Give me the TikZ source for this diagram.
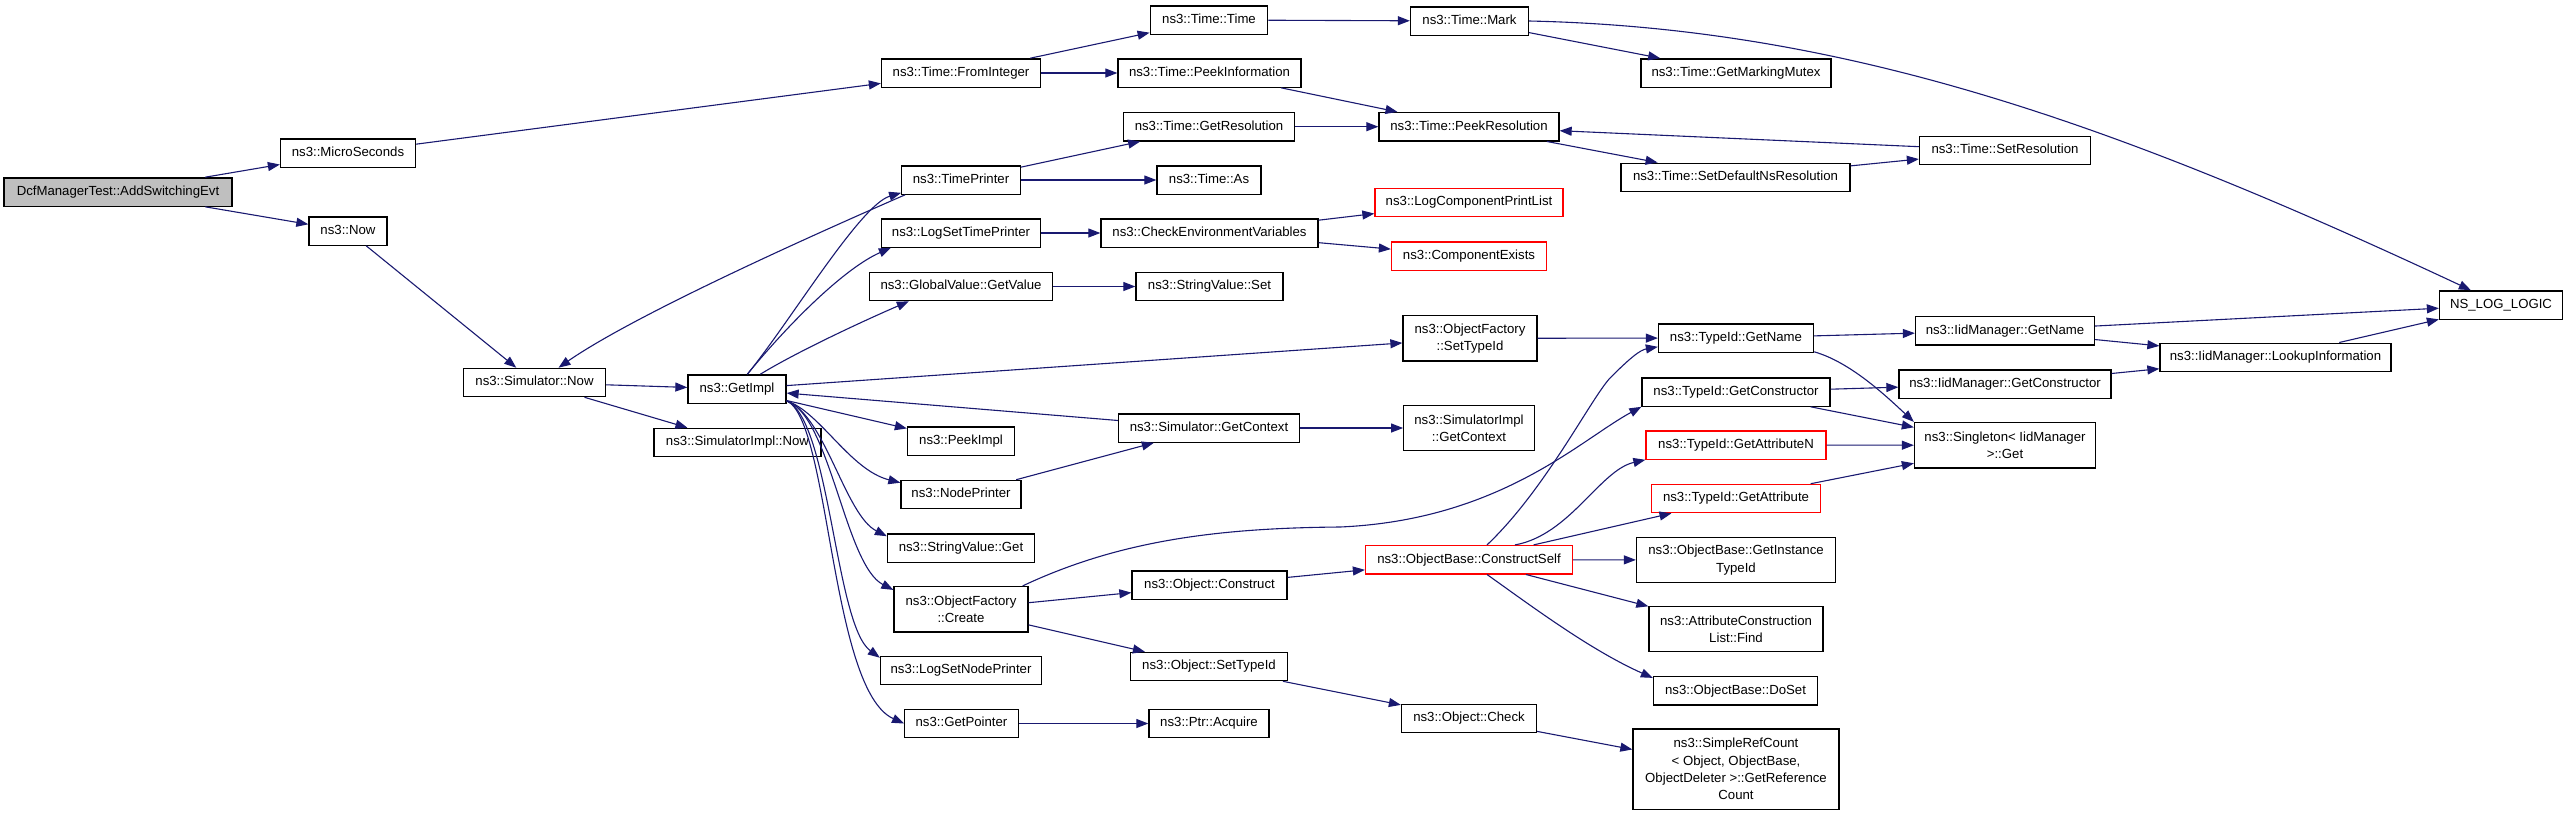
\documentclass[tikz,border=0pt]{standalone}
\usepackage{fontspec}
\setmainfont{Liberation Sans}
\usetikzlibrary{arrows.meta,calc}
\definecolor{edgecol}{HTML}{191970}
\definecolor{rootfill}{HTML}{BFBFBF}
\newcommand\dgfont{\fontsize{13.2}{17.3}\selectfont}
\tikzset{
  box/.style={draw=black, line width=1.3pt, fill=white, inner xsep=2pt, inner ysep=1pt,
              font=\dgfont, minimum height=28.3pt, text height=9.8pt, text depth=2.9pt},
  two/.style={align=center, minimum height=45.5pt, text height=, text depth=},
  four/.style={align=center, minimum height=80.3pt, text height=, text depth=},
  redbox/.style={draw=red},
  e/.style={draw=edgecol, line width=1.1pt, -{Triangle[length=12pt,width=9pt]}},
}
\begin{document}
\begin{tikzpicture}[x=1pt,y=-1pt]
\useasboundingbox (0,0) rectangle (2568,815);
% nodes
\node[box, fill=rootfill, minimum width=228pt] (root) at (118,192) {DcfManagerTest::AddSwitchingEvt};
\node[box, minimum width=135pt] (ms) at (348,153) {ns3::MicroSeconds};
\node[box, minimum width=78pt] (now) at (348,231) {ns3::Now};
\node[box, minimum width=142pt] (snow) at (534.5,382.5) {ns3::Simulator::Now};
\node[box, minimum width=98pt] (gi) at (737,389) {ns3::GetImpl};
\node[box, minimum width=167pt] (sinow) at (737.5,442.5) {ns3::SimulatorImpl::Now};
\node[box, minimum width=159pt] (fi) at (961,73) {ns3::Time::FromInteger};
\node[box, minimum width=117.5pt] (tt) at (1209,20) {ns3::Time::Time};
\node[box, minimum width=183pt] (pi) at (1209.5,73) {ns3::Time::PeekInformation};
\node[box, minimum width=118pt] (mark) at (1469.5,21) {ns3::Time::Mark};
\node[box, minimum width=190pt] (gmm) at (1736,73) {ns3::Time::GetMarkingMutex};
\node[box, minimum width=171pt] (gres) at (1209,126.7) {ns3::Time::GetResolution};
\node[box, minimum width=180pt] (pres) at (1469,126.7) {ns3::Time::PeekResolution};
\node[box, minimum width=118.5pt] (tp) at (961,180) {ns3::TimePrinter};
\node[box, minimum width=104pt] (as) at (1209,180) {ns3::Time::As};
\node[box, minimum width=229pt] (sdns) at (1735.5,177.3) {ns3::Time::SetDefaultNsResolution};
\node[box, minimum width=171pt] (sres) at (2005,150.5) {ns3::Time::SetResolution};
\node[box, redbox, minimum width=188pt] (lcpl) at (1469,202.5) {ns3::LogComponentPrintList};
\node[box, minimum width=159pt] (lstp) at (961,233) {ns3::LogSetTimePrinter};
\node[box, minimum width=217pt] (cev) at (1209.5,233) {ns3::CheckEnvironmentVariables};
\node[box, redbox, minimum width=155pt] (cex) at (1469,256) {ns3::ComponentExists};
\node[box, minimum width=183pt] (ggv) at (961,286.5) {ns3::GlobalValue::GetValue};
\node[box, minimum width=147pt] (svs) at (1209.5,286.5) {ns3::StringValue::Set};
\node[box, two, minimum width=134pt] (ofst) at (1470,338.3) {ns3::ObjectFactory\\::SetTypeId};
\node[box, minimum width=155pt] (tgn) at (1736,338) {ns3::TypeId::GetName};
\node[box, minimum width=179pt] (ign) at (2005,330.7) {ns3::IidManager::GetName};
\node[box, minimum width=123pt] (nsll) at (2501,305) {NS\_LOG\_LOGIC};
\node[box, minimum width=231pt] (lui) at (2275.5,357.3) {ns3::IidManager::LookupInformation};
\node[box, minimum width=188pt] (tgc) at (1736,392) {ns3::TypeId::GetConstructor};
\node[box, minimum width=212pt] (igc) at (2005,384) {ns3::IidManager::GetConstructor};
\node[box, two, minimum width=181pt] (sing) at (2005,445.3) {ns3::Singleton< IidManager\\>::Get};
\node[box, redbox, minimum width=180pt] (tgan) at (1736,445) {ns3::TypeId::GetAttributeN};
\node[box, redbox, minimum width=169pt] (tga) at (1736,498.5) {ns3::TypeId::GetAttribute};
\node[box, two, minimum width=199pt] (obgi) at (1736,560) {ns3::ObjectBase::GetInstance\\TypeId};
\node[box, two, minimum width=174pt] (acl) at (1736,629) {ns3::AttributeConstruction\\List::Find};
\node[box, minimum width=164pt] (ods) at (1735.5,690.7) {ns3::ObjectBase::DoSet};
\node[box, four, minimum width=206pt] (src) at (1736,769) {ns3::SimpleRefCount\\< Object, ObjectBase,\\ObjectDeleter >::GetReference\\Count};
\node[box, minimum width=181pt] (sgc) at (1209,428) {ns3::Simulator::GetContext};
\node[box, two, minimum width=130.5pt] (sigc) at (1469,428) {ns3::SimulatorImpl\\::GetContext};
\node[box, minimum width=107pt] (peek) at (961,441) {ns3::PeekImpl};
\node[box, minimum width=120pt] (np) at (961,494.5) {ns3::NodePrinter};
\node[box, minimum width=147pt] (svg) at (961,548) {ns3::StringValue::Get};
\node[box, two, minimum width=134pt] (ofc) at (961,609.3) {ns3::ObjectFactory\\::Create};
\node[box, minimum width=155pt] (oc) at (1209.5,585) {ns3::Object::Construct};
\node[box, redbox, minimum width=207pt] (cs) at (1469,559.7) {ns3::ObjectBase::ConstructSelf};
\node[box, minimum width=161pt] (lsnp) at (961,670.5) {ns3::LogSetNodePrinter};
\node[box, minimum width=157pt] (ost) at (1209,666.5) {ns3::Object::SetTypeId};
\node[box, minimum width=135pt] (ocheck) at (1469,718.5) {ns3::Object::Check};
\node[box, minimum width=113.6pt] (gp) at (961.5,723.5) {ns3::GetPointer};
\node[box, minimum width=120pt] (pa) at (1209,723.5) {ns3::Ptr::Acquire};
% straight edges
\draw[e] (root) -- (ms);
\draw[e] (root) -- (now);
\draw[e] (ms) -- (fi);
\draw[e] (now) -- (snow);
\draw[e] (snow) -- (gi);
\draw[e] (snow) -- (sinow);
\draw[e] (fi) -- (tt);
\draw[e] (fi) -- (pi);
\draw[e] (pi) -- (pres);
\draw[e] (tt) -- (mark);
\draw[e] (mark) -- (gmm);
\draw[e] (tp) -- (gres);
\draw[e] (tp) -- (as);
\draw[e] (gres) -- (pres);
\draw[e] (pres) -- (sdns);
\draw[e] (sdns) -- (sres);
\draw[e] (sres) -- (pres);
\draw[e] (lstp) -- (cev);
\draw[e] (cev) -- (lcpl);
\draw[e] (cev) -- (cex);
\draw[e] (ggv) -- (svs);
\draw[e] (gi) -- (ofst);
\draw[e] (sgc) -- (gi);
\draw[e] (gi) -- (peek);
\draw[e] (ofst) -- (tgn);
\draw[e] (tgn) -- (ign);
\draw[e] (ign) -- (nsll);
\draw[e] (ign) -- (lui);
\draw[e] (lui) -- (nsll);
\draw[e] (tgc) -- (igc);
\draw[e] (tgc) -- (sing);
\draw[e] (igc) -- (lui);
\draw[e] (tgan) -- (sing);
\draw[e] (tga) -- (sing);
\draw[e] (np) -- (sgc);
\draw[e] (sgc) -- (sigc);
\draw[e] (ofc) -- (oc);
\draw[e] (ofc) -- (ost);
\draw[e] (oc) -- (cs);
\draw[e] (cs) -- (tga);
\draw[e] (cs) -- (obgi);
\draw[e] (cs) -- (acl);
\draw[e] (ost) -- (ocheck);
\draw[e] (ocheck) -- (src);
\draw[e] (gp) -- (pa);
% curved edges
\draw[e] ($(gi.north west)+(60,0)$) .. controls (790,322) and (860,205) .. ($(tp.south west)+(0,-2)$);
\draw[e] ($(gi.north west)+(60,0)$) .. controls (790,322) and (845,268) .. ($(lstp.south west)+(10,0)$);
\draw[e] ($(gi.north west)+(73,0)$) .. controls (800,350) and (870,318) .. ($(ggv.south west)+(40,0)$);
\draw[e] ($(tp.south west)+(4,0)$) .. controls (790,245) and (630,318) .. ($(snow.north)+(24,0)$);
\draw[e] ($(gi.south east)+(0,-3)$) .. controls (820,412) and (850,470) .. ($(np.north west)+(0,3)$);
\draw[e] ($(gi.south east)+(0,-3)$) .. controls (825,415) and (845,515) .. ($(svg.north west)+(0,3)$);
\draw[e] ($(gi.south east)+(0,-3)$) .. controls (830,415) and (845,565) .. ($(ofc.north west)+(0,4)$);
\draw[e] ($(gi.south east)+(0,-3)$) .. controls (830,420) and (835,625) .. ($(lsnp.north west)+(0,2)$);
\draw[e] ($(gi.south east)+(0,-3)$) .. controls (830,420) and (830,690) .. (gp.west);
\draw[e] (mark.east) .. controls (1850,28) and (2122,127) .. ($(nsll.north west)+(32,0)$);
\draw[e] ($(tgn.south east)+(0,-1)$) .. controls (1850,362) and (1885,395) .. (sing.north west);
\draw[e] ($(ofc.north east)+(-6,0)$) .. controls (1120,540) and (1220,528) .. (1340,527) .. controls (1500,520) and (1580,440) .. (tgc.south west);
\draw[e] ($(cs.north)+(18,0)$) .. controls (1545,490) and (1590,400) .. (1610,378) .. controls (1630,358) and (1640,350) .. ($(tgn.south west)+(0,-6)$);
\draw[e] ($(cs.north)+(46,0)$) .. controls (1570,535) and (1600,470) .. (tgan.south west);
\draw[e] ($(cs.south)+(18,0)$) .. controls (1530,605) and (1590,650) .. ($(ods.north west)+(0,2)$);
\end{tikzpicture}
\end{document}
